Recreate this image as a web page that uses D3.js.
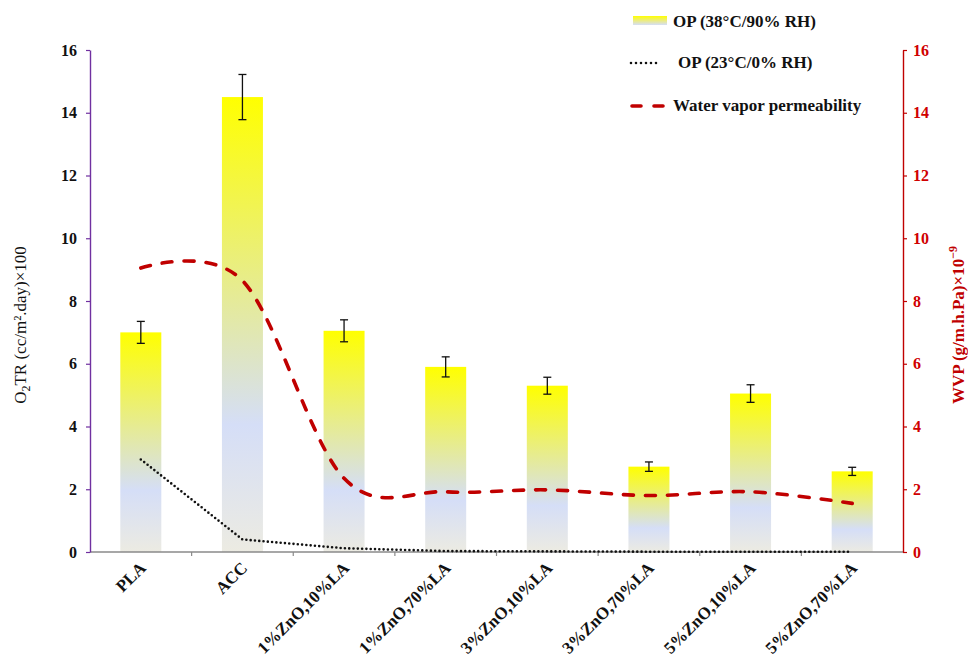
<!DOCTYPE html>
<html>
<head>
<meta charset="utf-8">
<script src="https://cdn.jsdelivr.net/npm/d3@7/dist/d3.min.js"></script>
<style>
  html, body { margin: 0; padding: 0; background: #fff; }
  svg { display: block; font-family: "Liberation Serif", "Times New Roman", serif; }
  svg text { font-family: "Liberation Serif", "Times New Roman", serif; }
</style>
</head>
<body>
<svg id="chart" width="968" height="660"></svg>
<script>
// Film samples
const categories = ["PLA", "ACC", "1%ZnO,10%LA", "1%ZnO,70%LA", "3%ZnO,10%LA", "3%ZnO,70%LA", "5%ZnO,10%LA", "5%ZnO,70%LA"];
// Oxygen permeability at 38°C / 90% RH (bars) and its error
const op38 = [7.0, 14.5, 7.05, 5.9, 5.3, 2.72, 5.05, 2.57];
const op38Err = [0.35, 0.72, 0.35, 0.32, 0.27, 0.15, 0.28, 0.13];
// Oxygen permeability at 23°C / 0% RH (dotted line)
const op23 = [2.95, 0.4, 0.12, 0.03, 0.02, 0.01, 0.01, 0.01];
// Water vapor permeability (dashed line, right axis)
const wvp = [9.05, 8.65, 2.35, 1.92, 1.98, 1.8, 1.92, 1.55];
// Axis ticks
const yTicks = [0, 2, 4, 6, 8, 10, 12, 14, 16];

const svg = d3.select("#chart");
const m = { left: 90, right: 903, top: 50, bottom: 552 };

const xTick = d3.scaleBand().domain(categories).range([m.left, m.right]);
const yL = d3.scaleLinear().domain([0, 16]).range([m.bottom, m.top]);
const yR = d3.scaleLinear().domain([0, 16]).range([m.bottom, m.top]);

// Gradients
const defs = svg.append("defs");
const g1 = defs.append("linearGradient").attr("id", "barGrad").attr("x1", 0).attr("y1", 0).attr("x2", 0).attr("y2", 1);
g1.append("stop").attr("offset", "0").attr("stop-color", "#ffff00");
g1.append("stop").attr("offset", "0.72").attr("stop-color", "#d5def7");
g1.append("stop").attr("offset", "1").attr("stop-color", "#ecebe2");

const bw = 41;
const cx = d => xTick(d) + xTick.bandwidth() / 2;

// Bars
svg.append("g").selectAll("rect").data(categories).join("rect")
  .attr("x", d => cx(d) - bw / 2)
  .attr("width", bw)
  .attr("y", (d, i) => yL(op38[i]))
  .attr("height", (d, i) => yL(0) - yL(op38[i]))
  .attr("fill", "url(#barGrad)");

// Error bars
const eg = svg.append("g").attr("stroke", "#111").attr("stroke-width", 1.3);
categories.forEach((c, i) => {
  const xc = cx(c);
  const y1 = yL(op38[i] + op38Err[i]), y2 = yL(op38[i] - op38Err[i]);
  eg.append("line").attr("x1", xc).attr("x2", xc).attr("y1", y1).attr("y2", y2);
  eg.append("line").attr("x1", xc - 4).attr("x2", xc + 4).attr("y1", y1).attr("y2", y1);
  eg.append("line").attr("x1", xc - 4).attr("x2", xc + 4).attr("y1", y2).attr("y2", y2);
});

// X axis
const xAxis = svg.append("g").attr("transform", `translate(0,${m.bottom})`);
xAxis.append("line").attr("x1", m.left).attr("x2", m.right).attr("stroke", "#8a8a8a").attr("stroke-width", 1.3);
xAxis.selectAll("line.tk").data(categories.slice(1)).join("line").attr("class", "tk")
  .attr("x1", d => xTick(d)).attr("x2", d => xTick(d)).attr("y1", 0).attr("y2", 4)
  .attr("stroke", "#8a8a8a").attr("stroke-width", 1.2);
xAxis.selectAll("text").data(categories).join("text")
  .attr("transform", d => `translate(${cx(d) + 6},${17}) rotate(-45)`)
  .attr("text-anchor", "end")
  .attr("font-weight", "bold")
  .attr("font-size", 17)
  .attr("fill", "#111")
  .text(d => d);

// Dotted OP line
svg.append("path")
  .datum(op23)
  .attr("fill", "none")
  .attr("stroke", "#111")
  .attr("stroke-width", 2.6)
  .attr("stroke-linecap", "round")
  .attr("stroke-dasharray", "0 4.3")
  .attr("d", d3.line().x((d, i) => cx(categories[i])).y(d => yL(d)));

// Dashed WVP line
svg.append("path")
  .datum(wvp)
  .attr("fill", "none")
  .attr("stroke", "#c00000")
  .attr("stroke-width", 3.6)
  .attr("stroke-linecap", "round")
  .attr("stroke-dasharray", "10 12")
  .attr("d", d3.line().curve(d3.curveCardinal.tension(0)).x((d, i) => cx(categories[i])).y(d => yR(d)));

// Left axis
const la = svg.append("g").attr("transform", `translate(${m.left},0)`)
  .call(d3.axisLeft(yL).tickValues(yTicks).tickSize(4).tickPadding(9).tickSizeOuter(0));
la.attr("font-family", null);
la.select(".domain").attr("stroke", "#7030a0").attr("stroke-width", 1.4);
la.selectAll(".tick line").attr("stroke", "#7030a0").attr("stroke-width", 1.2);
la.selectAll(".tick text").attr("font-size", 16).attr("font-weight", "bold").attr("fill", "#111");

// Right axis
const ra = svg.append("g").attr("transform", `translate(${m.right},0)`)
  .call(d3.axisRight(yR).tickValues(yTicks).tickSize(4).tickPadding(6).tickSizeOuter(0));
ra.attr("font-family", null);
ra.select(".domain").attr("stroke", "#c00000").attr("stroke-width", 1.4);
ra.selectAll(".tick line").attr("stroke", "#c00000").attr("stroke-width", 1.2);
ra.selectAll(".tick text").attr("font-size", 16).attr("font-weight", "bold").attr("fill", "#d00000");

// Axis titles
const lt = svg.append("text")
  .attr("transform", `translate(26,${325}) rotate(-90)`)
  .attr("text-anchor", "middle")
  .attr("font-size", 17)
  .attr("fill", "#111");
lt.append("tspan").text("O");
lt.append("tspan").attr("font-size", 12).attr("dy", 4).text("2");
lt.append("tspan").attr("dy", -4).text("TR (cc/m².day)×100");

const rt = svg.append("text")
  .attr("transform", `translate(964,${325}) rotate(-90)`)
  .attr("text-anchor", "middle")
  .attr("font-size", 17)
  .attr("font-weight", "bold")
  .attr("fill", "#c00000");
rt.append("tspan").text("WVP (g/m.h.Pa)×10");
rt.append("tspan").attr("font-size", 12).attr("dy", -7).text("−9");

// Legend
const lg = svg.append("g").attr("font-size", 17).attr("font-weight", "bold").attr("fill", "#111");
const g2 = defs.append("linearGradient").attr("id", "legGrad").attr("x1", 0).attr("y1", 0).attr("x2", 0).attr("y2", 1);
g2.append("stop").attr("offset", "0").attr("stop-color", "#ffff00");
g2.append("stop").attr("offset", "0.5").attr("stop-color", "#ecec80");
g2.append("stop").attr("offset", "1").attr("stop-color", "#d5def7");
lg.append("rect").attr("x", 633).attr("y", 16).attr("width", 34).attr("height", 9).attr("fill", "url(#legGrad)");
lg.append("text").attr("x", 673).attr("y", 27).text("OP (38°C/90% RH)");
lg.append("line").attr("x1", 631).attr("x2", 661).attr("y1", 63).attr("y2", 63)
  .attr("stroke", "#111").attr("stroke-width", 2.6).attr("stroke-linecap", "round").attr("stroke-dasharray", "0 5");
lg.append("text").attr("x", 678).attr("y", 68).text("OP (23°C/0% RH)");
lg.append("line").attr("x1", 632).attr("x2", 664).attr("y1", 106).attr("y2", 106)
  .attr("stroke", "#c00000").attr("stroke-width", 3.6).attr("stroke-linecap", "round").attr("stroke-dasharray", "9 13");
lg.append("text").attr("x", 673).attr("y", 111).text("Water vapor permeability");
</script>
</body>
</html>
